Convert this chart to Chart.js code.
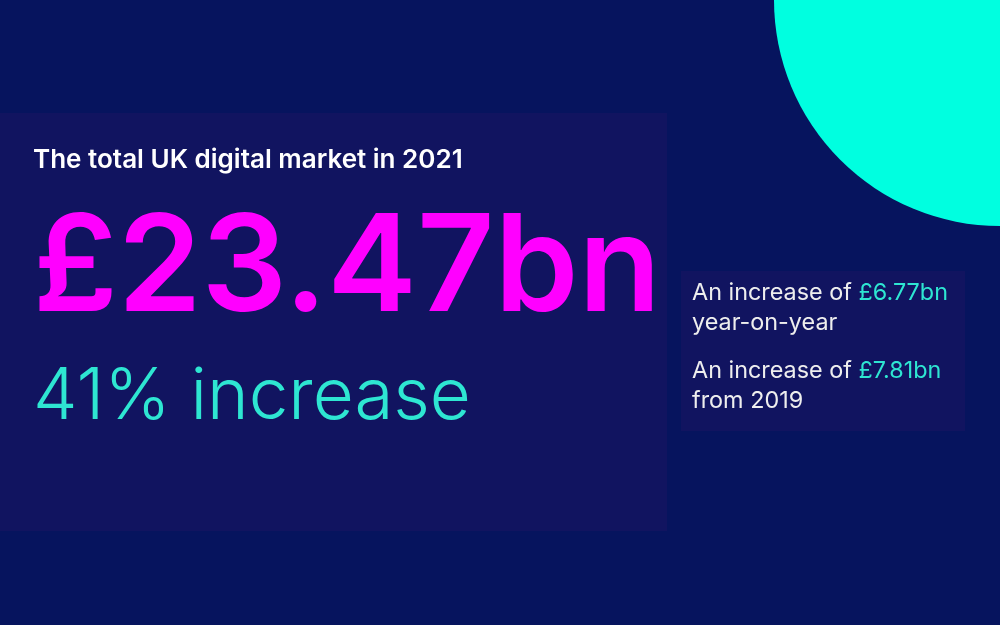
<!DOCTYPE html>
<html><head><meta charset="utf-8">
<script src="https://cdn.jsdelivr.net/npm/chart.js@4.4.0/dist/chart.umd.min.js"></script>
<style>html,body{margin:0;padding:0;background:#06145e;}#c{display:block;}</style>
</head><body>
<canvas id="c" width="1000" height="625"></canvas>
<script>
const title = "The total UK digital market in 2021";
const totalBn = [23.47];
const increasePct = [41];
const yoyBn = [6.77];
const since2019Bn = [7.81];
const circlePoint = [{x: 1000, y: 0, r: 226}];

function fit(ctx, text, weight, family, targetW) {
  ctx.font = weight + " 100px " + family;
  const w = ctx.measureText(text).width;
  const size = 100 * targetW / w;
  ctx.font = weight + " " + size + "px " + family;
  return size;
}

const overlay = {
  id: 'overlay',
  beforeDatasetsDraw(chart) {
    const ctx = chart.ctx;
    ctx.save();
    ctx.fillStyle = '#111460';
    ctx.fillRect(0, 113, 667, 418);
    ctx.fillRect(681, 271, 284, 160);
    ctx.restore();
  },
  afterDatasetsDraw(chart) {
    const ctx = chart.ctx;
    ctx.save();
    ctx.textBaseline = 'alphabetic';
    ctx.fillStyle = '#ffffff';
    fit(ctx, title, '600', 'Inter, sans-serif', 430);
    ctx.fillText(title, 33, 168);
    ctx.fillStyle = '#ff00ff';
    fit(ctx, '£' + totalBn[0].toFixed(2) + 'bn', '600', 'Inter, sans-serif', 628);
    ctx.fillText('£' + totalBn[0].toFixed(2) + 'bn', 33, 311);
    ctx.fillStyle = '#2ee6d2';
    fit(ctx, increasePct[0] + '% increase', '300', 'Inter, sans-serif', 438);
    ctx.fillText(increasePct[0] + '% increase', 33, 419);
    const lines = [
      ['An increase of ', '£' + yoyBn[0].toFixed(2) + 'bn', 'year-on-year', 300],
      ['An increase of ', '£' + since2019Bn[0].toFixed(2) + 'bn', 'from 2019', 378]
    ];
    const size = fit(ctx, 'An increase of £6.77bn', '400', 'Inter, sans-serif', 256);
    for (const [a, b, c, y] of lines) {
      ctx.font = '400 ' + size + 'px Inter, sans-serif';
      ctx.fillStyle = '#eeeeee';
      ctx.fillText(a, 692, y);
      const wa = ctx.measureText(a).width;
      ctx.fillStyle = '#2ee6d2';
      ctx.fillText(b, 692 + wa, y);
      ctx.fillStyle = '#eeeeee';
      ctx.fillText(c, 692, y + 30);
    }
    ctx.restore();
  }
};

new Chart(document.getElementById('c'), {
  type: 'bubble',
  data: { datasets: [{ data: circlePoint, backgroundColor: '#00ffe0', borderWidth: 0, clip: false }] },
  options: {
    responsive: false, animation: false,
    layout: { padding: 0, autoPadding: false },
    plugins: { legend: { display: false }, tooltip: { enabled: false } },
    scales: {
      x: { type: 'linear', min: 0, max: 1000, display: false },
      y: { type: 'linear', min: 0, max: 625, reverse: true, display: false }
    }
  },
  plugins: [overlay]
});
</script>
</body></html>
